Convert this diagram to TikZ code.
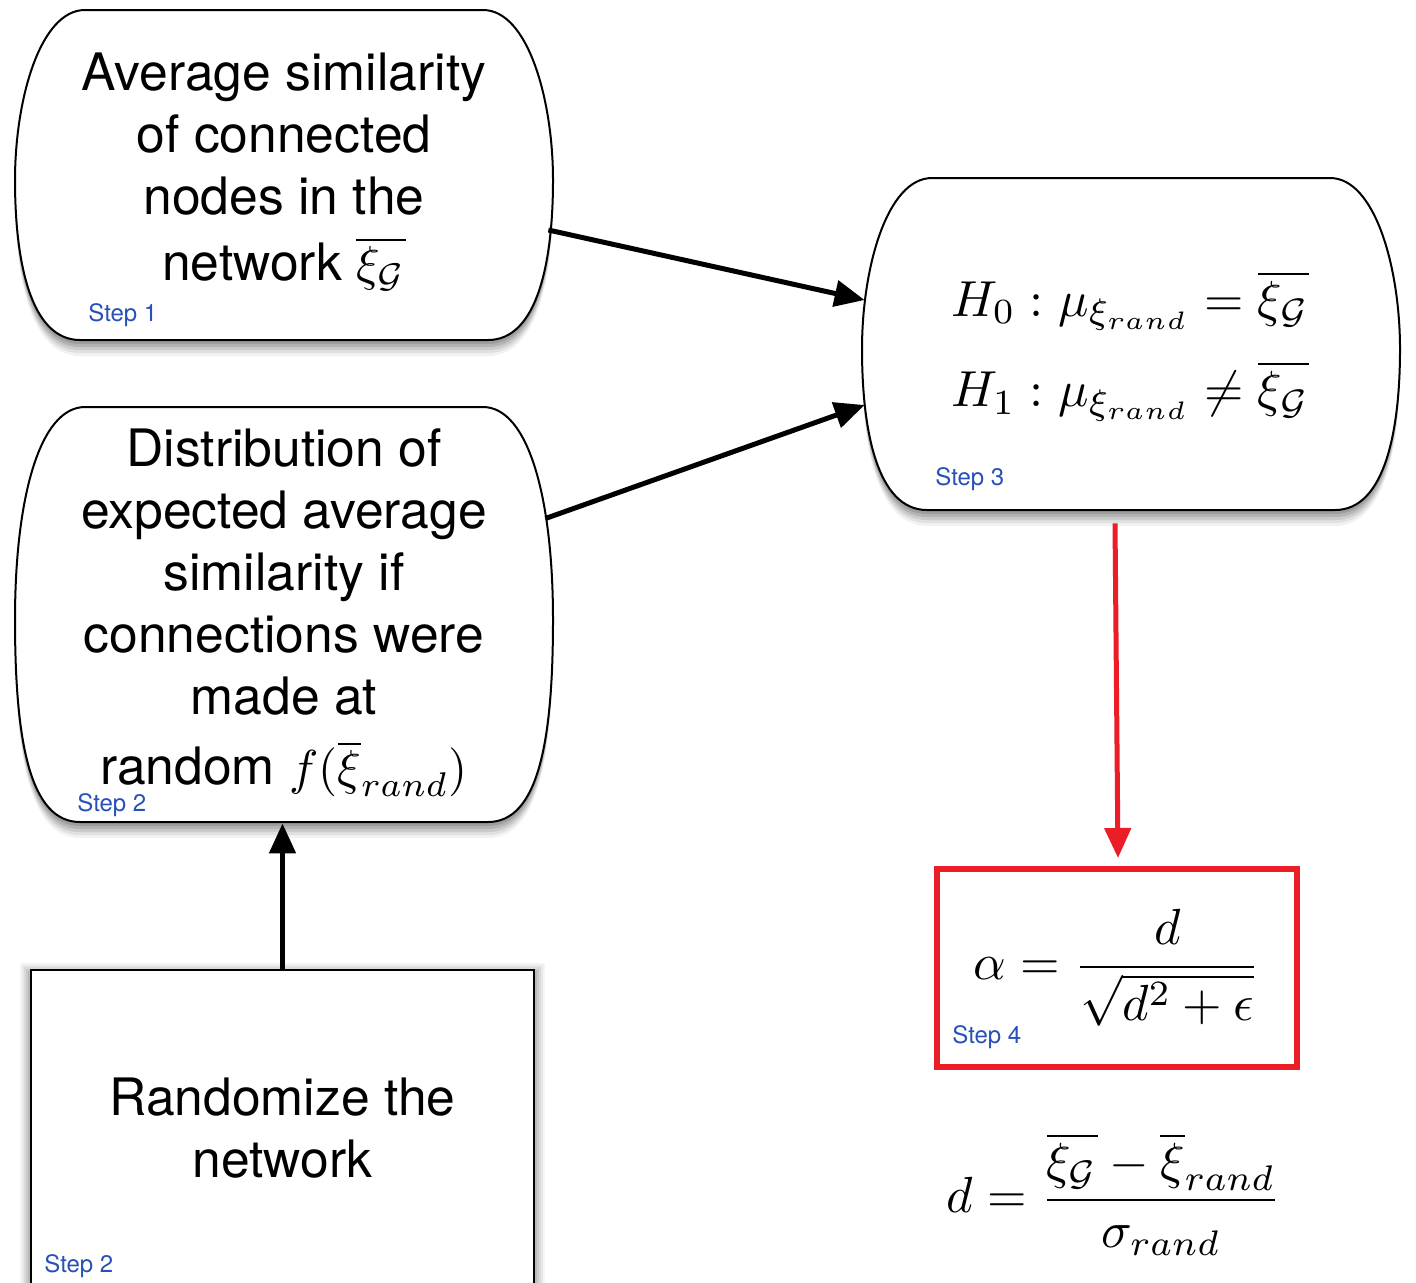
\documentclass[tikz,border=0pt]{standalone}
\usepackage{graphicx}
\usepackage{fontspec}
\newfontfamily\hv{TeX Gyre Heros}
\usetikzlibrary{arrows.meta,calc}
\definecolor{stepblue}{RGB}{40,80,185}
\definecolor{boxred}{RGB}{235,30,40}
\newcommand\mymath[1]{\scalebox{2.45}{\fontsize{10}{12}\selectfont$#1$}}
\newcommand\bigmath[1]{\scalebox{2.54}{\fontsize{10}{12}\selectfont$#1$}}
\newcommand\barrelshape[5]{%
  \path[#1] (#2+70,#3) -- (#4-70,#3)
    .. controls (#4-25,#3) and (#4,#3+90) .. (#4,{(#3+#5)/2+5})
    .. controls (#4,#5-80) and (#4-15,#5) .. (#4-65,#5)
    -- (#2+65,#5)
    .. controls (#2+15,#5) and (#2,#5-80) .. (#2,{(#3+#5)/2+5})
    .. controls (#2,#3+90) and (#2+25,#3) .. (#2+70,#3) -- cycle;}
\newcommand\barrelfull[4]{%
  \foreach \s/\o in {16/0.05,13/0.07,10/0.09,7/0.11,4/0.12}{%
    \barrelshape{fill=black,opacity=\o,shift={(0,\s)}}{#1}{#2}{#3}{#4}}%
  \barrelshape{draw=black,fill=white,line width=1pt}{#1}{#2}{#3}{#4}}
\begin{document}
\begin{tikzpicture}[x=0.5pt,y=-0.5pt,
  bigtext/.style={font=\hv\fontsize{25.8}{31}\selectfont, align=center, inner sep=0},
  steplbl/.style={font=\hv\fontsize{12}{13}\selectfont, text=stepblue, anchor=west, inner sep=0},
  arr/.style={line width=2.5pt, -{Triangle[length=15pt,width=13pt]}},
  redarr/.style={line width=2.5pt, draw=boxred, -{Triangle[length=15pt,width=13pt]}}]
\clip (0,0) rectangle (1416,1282);
\fill[white] (0,0) rectangle (1416,1282);

% barrel shapes
\barrelfull{15}{10}{553}{340}
\barrelfull{15}{407}{553}{822}
\barrelfull{862}{178}{1400}{510}

% node 1
\node[bigtext, minimum width=269pt, minimum height=165pt] (n1) at (284,172)
  {Average similarity\\of connected\\nodes in the\\[2pt]network \mymath{\overline{\xi_{\mathcal{G}}}}};
\node[steplbl] (s1) at (88,315) {Step 1};

% node 2
\node[bigtext, minimum width=269pt, minimum height=207pt] (n2) at (284,613)
  {Distribution of\\expected average\\similarity if\\connections were\\made at\\[4pt]random \mymath{f(\overline{\xi}_{rand})}};
\node[steplbl] (s2) at (77,805) {Step 2};

% node 3
\node[inner sep=0, minimum width=269pt, minimum height=166pt] (n3) at (1131,344) {};
\node[inner sep=0, align=left, scale=2.53, font=\fontsize{10}{17.8}\selectfont] (hyp) at (1130,346)
  {$H_0 : \mu_{\xi_{rand}} = \overline{\xi_{\mathcal{G}}}$\\$H_1 : \mu_{\xi_{rand}} \neq \overline{\xi_{\mathcal{G}}}$};
\node[steplbl] (s3) at (935,479) {Step 3};

% randomize rectangle
\foreach \s/\o in {10/0.04,8/0.05,6/0.06,4/0.07,2/0.08}{%
  \fill[black,opacity=\o] (30-\s,970-\s+3) rectangle (535+\s,1300);}
\node[bigtext, draw=black, fill=white, line width=1pt, minimum width=251.5pt, minimum height=158pt] (rnd) at (282.5,1128)
  {Randomize the\\network};
\node[steplbl] (s2b) at (44,1266) {Step 2};

% step 4 box
\node[draw=boxred, line width=3pt, minimum width=180pt, minimum height=99pt, inner sep=0] (abox) at (1117,968)
  {\bigmath{\displaystyle \alpha = \frac{d}{\sqrt{d^2+\epsilon}}}};
\node[steplbl] (s4) at (952,1037) {Step 4};

% d formula
\node[inner sep=0] (dform) at (1114,1194)
  {\bigmath{\displaystyle d = \frac{\overline{\xi_{\mathcal{G}}} - \overline{\xi}_{rand}}{\sigma_{rand}}}};

% connectors
\draw[arr] ([shift={(-5,58)}]n1.east) -- ([shift={(3,-44)}]n3.west);
\draw[arr] ([shift={(-8,-94.5)}]n2.east) -- ([shift={(3,61)}]n3.west);
\draw[arr] (rnd.north) -- ([shift={(-1.5,3)}]n2.south);
\draw[redarr] ([shift={(-16,13)}]n3.south) -- ([shift={(1,-8)}]abox.north);
\end{tikzpicture}
\end{document}
